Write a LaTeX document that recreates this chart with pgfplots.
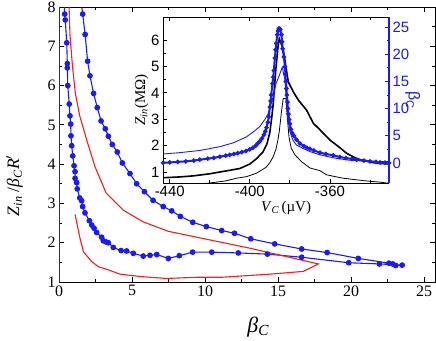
\documentclass[border=0pt]{standalone}
\usepackage{fontspec}
\setmainfont{Liberation Serif}
\newfontfamily\arial{Liberation Sans}
\usepackage{pgfplots}
\pgfplotsset{compat=1.18}
\definecolor{myblue}{RGB}{25,25,255}
\definecolor{myred}{RGB}{255,25,25}
\begin{document}
\begin{tikzpicture}
\useasboundingbox (-59bp,-59bp) rectangle (377bp,282bp);
\begin{axis}[
 scale only axis, width=376bp, height=275bp,
 at={(0bp,0bp)}, anchor=south west,
 xmin=0, xmax=25.75, ymin=1, ymax=8,
 xtick={0,5,...,25}, ytick={1,...,8},
 minor x tick num=1, minor y tick num=1,
 tick align=inside,
 major tick length=5bp, minor tick length=3bp,
 axis line style={line width=0.9pt},
 every tick/.style={black, line width=0.8pt},
 tick label style={font=\rmfamily\fontsize{16}{18}\selectfont},
 /pgf/number format/assume math mode=true,
 xlabel={\fontsize{22}{24}\selectfont\textit{β}\textsubscript{\textit{C}}},
 ylabel={\fontsize{17.5}{20}\selectfont\textit{Z}\textsubscript{\textit{in}} /\textit{β}\textsubscript{\textit{C}}\textit{R}$'$},
 every axis x label/.style={at={(axis description cs:0.53,-0.164)}, anchor=center},
 every axis y label/.style={at={(axis description cs:-0.118,0.35)}, anchor=center, rotate=90},
 clip=true,
]
\addplot[myblue, line width=1.1pt] coordinates {(0.04,1) (0.04,8)};
\addplot[myblue, line width=1.1pt] coordinates {(1.50,8.2) (1.62,7.82)};
\addplot[myblue, line width=1.1pt] coordinates {(0.39,7.82) (0.34,8.2)};
\addplot[myblue, line width=1.1pt, mark=*, mark size=2.3bp] coordinates {
(1.62,7.82) (1.79,7.30) (1.96,6.62) (2.12,6.25) (2.37,5.80) (2.62,5.44) (2.88,5.10) (3.17,4.90) (3.38,4.71) (3.65,4.50) (3.99,4.31) (4.34,4.03) (4.86,3.76) (5.32,3.50) (5.85,3.30) (6.44,3.08) (7.14,2.92) (7.72,2.81) (8.31,2.67) (9.16,2.52) (10.09,2.41) (11.14,2.31) (12.02,2.24) (13.13,2.10) (14.77,1.97) (16.62,1.84) (18.36,1.75) (20.5,1.60) (22.6,1.48) (22.85,1.46) (23.06,1.42) (23.5,1.43)
(21.94,1.46) (19.84,1.49) (16.62,1.63) (14.27,1.71) (12.28,1.74) (10.46,1.76) (9.15,1.76) (8.24,1.67) (7.49,1.60) (6.69,1.70) (6.23,1.68) (5.77,1.66) (5.09,1.73) (4.63,1.79) (4.25,1.80) (3.72,1.88) (3.38,2.00) (3.22,2.02) (3.03,2.05) (2.92,2.14) (2.58,2.26) (2.40,2.37) (2.24,2.45) (2.08,2.56) (1.78,2.76) (1.62,2.92) (1.55,3.07) (1.42,3.14) (1.25,3.37) (1.21,3.53) (1.10,3.64) (1.10,3.81) (1.03,3.96) (0.94,4.21) (0.87,4.47) (0.82,4.72) (0.80,5.02) (0.75,5.23) (0.70,5.53) (0.60,6.00) (0.57,6.45) (0.57,6.56) (0.53,7.09) (0.43,7.67) (0.39,7.82)
};
\addplot[myred, line width=1.1pt] coordinates {
(0.66,8.2) (0.69,8.0) (0.75,7.3) (0.92,6.5) (1.12,5.8) (1.42,5.23) (1.90,4.61) (2.47,3.93) (3.22,3.27) (4.40,2.83) (5.77,2.53) (7.49,2.29) (13.08,1.86) (17.76,1.46) (16.73,1.27) (14.45,1.20) (11.14,1.12) (9.43,1.12) (7.37,1.09) (5.55,1.14) (4.18,1.20) (3.38,1.31) (2.69,1.39) (2.24,1.52) (1.67,1.77) (1.44,2.11) (1.10,2.72)
};
\end{axis}
% inset, left axis (Z_in)
\begin{axis}[
 scale only axis, width=226bp, height=166bp,
 at={(104bp,99bp)}, anchor=south west,
 xmin=-443.35, xmax=-330.5, ymin=0.58, ymax=6.88,
 axis y line*=left,
 axis background/.style={fill=white},
 xtick={-440,-400,-360}, xticklabels={-440,-400,-360},
 minor xtick={-420,-380,-340},
 ytick={1,...,6}, minor y tick num=1,
 tick align=inside,
 major tick length=4bp, minor tick length=2.5bp,
 axis line style={line width=1pt},
 every tick/.style={black, line width=0.8pt},
 tick label style={font=\arial\fontsize{15}{17}\selectfont},
 /pgf/number format/assume math mode=true,
 xlabel={\fontsize{15}{17}\selectfont\textit{V}\textsubscript{\textit{C}}\,(µV)},
 ylabel={\fontsize{15}{17}\selectfont\textit{Z}\textsubscript{\textit{in}}(MΩ)},
 xlabel style={yshift=3bp, xshift=10bp},
 ylabel style={yshift=-4bp},
 clip=true,
]
\addplot[black, line width=0.8pt] coordinates {
(-444,0.45) (-430,0.50) (-420,0.58) (-412,0.66) (-406.7,0.76) (-401.7,0.82) (-396.7,0.95) (-392,1.17) (-390,1.35) (-388.3,1.58) (-387,1.85) (-386,2.2) (-385.3,2.53) (-384.2,3.28) (-383.3,3.79) (-382,3.79) (-381.2,3.0) (-380.4,2.3) (-379.3,1.9) (-377.5,1.65) (-374.2,1.39) (-370,1.15) (-365,1.05) (-361.7,0.89) (-353.3,0.76) (-343.3,0.67) (-336,0.62) (-330.5,0.57)
};
\addplot[black, line width=1.6pt] coordinates {
(-443.3,0.78) (-435,0.81) (-428.3,0.85) (-420,0.93) (-411.7,1.04) (-405,1.13) (-400,1.30) (-396.7,1.50) (-393.5,1.75) (-391.5,2.05) (-390,2.5) (-389,3.1) (-388.3,3.6) (-387,4.9) (-386,5.7) (-385.3,6.06) (-384.5,5.9) (-383.3,5.65) (-382,5.0) (-380.8,4.42) (-378,4.0) (-375.5,3.7) (-371.7,3.35) (-368.3,2.85) (-365,2.6) (-360,2.21) (-355,1.92) (-351.7,1.71) (-347,1.52) (-343.3,1.43) (-336.7,1.33) (-330.5,1.30)
};
\end{axis}
% inset, right axis (beta_C)
\begin{axis}[
 scale only axis, width=226bp, height=166bp,
 at={(104bp,99bp)}, anchor=south west,
 xmin=-443.35, xmax=-330.5, ymin=-3.68, ymax=26.84,
 axis y line*=right, axis x line=none,
 ytick={0,5,...,25}, minor y tick num=1,
 tick align=inside,
 major tick length=4bp, minor tick length=2.5bp,
 y axis line style={myblue, line width=1.3pt},
 every tick/.style={myblue, line width=0.8pt},
 yticklabel style={myblue, font=\arial\fontsize{15}{17}\selectfont},
 /pgf/number format/assume math mode=true,
 ylabel={\arial\fontsize{16}{18}\selectfont β\textsubscript{C}},
 every axis y label/.style={at={(axis description cs:1.105,0.5)}, anchor=center, rotate=-90, myblue},
 clip=true,
]
\addplot[myblue, line width=0.9pt] coordinates {
(-443.3,1.65) (-435,1.9) (-425,2.3) (-415,3.0) (-408.3,3.7) (-401.7,4.8) (-398.3,5.7) (-395,6.7) (-392.5,8.0) (-390.8,9.1) (-388.3,12.2) (-387,14.5) (-385.5,15.9) (-383.8,17.6) (-382.5,15.4) (-381.7,11.3) (-381,8.5) (-380,5.8) (-378.5,4.2) (-376.7,3.3) (-373,2.6) (-370,2.1) (-365,1.5) (-360,1.1) (-356.7,0.85) (-350,0.5) (-340,0.3) (-330.5,0.25)
};
\addplot[myblue, line width=2pt, mark=*, mark size=1.1pt] coordinates {
(-443.3,0.05) (-440,0.1) (-436,0.2) (-432,0.3) (-428,0.45) (-425,0.6) (-421,0.8) (-418,0.95) (-415,1.15) (-412,1.35) (-410,1.5) (-408,1.65) (-406,1.8) (-404,2.0) (-402,2.2) (-400,2.5) (-398.5,2.8) (-397,3.2) (-396,3.6) (-395,4.0) (-394,4.5) (-393,5.2) (-392.3,5.8) (-391.7,6.5) (-391,7.5) (-390.5,8.5) (-390,10.3) (-389.6,11.4) (-389.3,12.5) (-388.7,14.6) (-388.3,15.8) (-388,17) (-387.5,19.3) (-387.1,20.8) (-386.8,22) (-386.3,23.6) (-385.9,24.3) (-385.5,24.7) (-385.1,24.7) (-384.8,24.5) (-384.2,23.6) (-383.9,22.3) (-383.6,21) (-383,19.5) (-382.5,17.7) (-382.2,16.3) (-382,15) (-381.7,13.7) (-381.5,12.5) (-381.2,11.2) (-381,10) (-380.7,9) (-380.4,8.0) (-380,7.2) (-379.5,6.2) (-378.8,5.5) (-378,5.0) (-376.7,4.3) (-375,3.6) (-373,3.1) (-371.5,2.8) (-370,2.6) (-368,2.3) (-365,1.9) (-362,1.65) (-358.3,1.4) (-355,1.1) (-352,0.9) (-349,0.75) (-346.7,0.6) (-343,0.45) (-340,0.3) (-337,0.2) (-335,0.1) (-332.5,0.05) (-330.5,0.0)
};
\end{axis}
\end{tikzpicture}
\end{document}
